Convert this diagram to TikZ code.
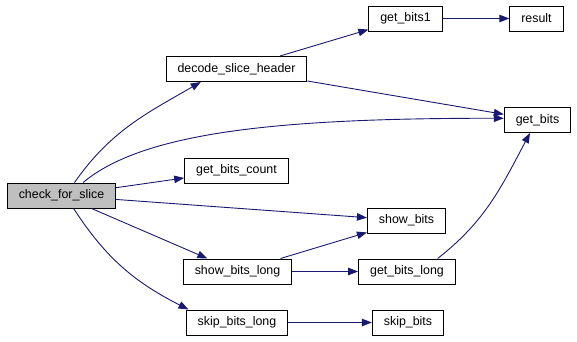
\documentclass[tikz,border=0pt]{standalone}
\usepackage{fontspec}
\setmainfont{Liberation Sans}
\usetikzlibrary{arrows.meta}

\definecolor{edgeblue}{HTML}{191970}
\definecolor{curgray}{HTML}{BFBFBF}

\begin{document}
\begin{tikzpicture}[x=1pt, y=1pt,
    fn/.style = {draw, line width=1pt, minimum height=25pt, inner xsep=11.5pt, inner ysep=0pt,
                 font=\fontsize{12.4}{14}\selectfont},
    cur/.style = {fn, fill=curgray},
    call/.style = {draw=edgeblue, line width=0.9pt, -{Triangle[length=10pt, width=7.5pt]}}]
    \useasboundingbox (0,0) rectangle (577,-341);

    % functions, one column per call depth
    \node[cur](cfs) at (61.5,-195.5) {check\_for\_slice};
    \node[fn](dsh) at (236.5,-69) {decode\_slice\_header};
    \node[fn](gbc) at (236.5,-170.5) {get\_bits\_count};
    \node[fn](sbl) at (237.5,-271.5) {show\_bits\_long};
    \node[fn](skbl) at (237,-322.5) {skip\_bits\_long};
    \node[fn](gb1) at (405.5,-18.5) {get\_bits1};
    \node[fn](sb) at (406.5,-220.5) {show\_bits};
    \node[fn](gbl) at (407,-271.5) {get\_bits\_long};
    \node[fn](skb) at (408,-322.5) {skip\_bits};
    \node[fn](res) at (536.5,-18.5) {result};
    \node[fn](gb) at (537.5,-120) {get\_bits};

    % calls
    \draw[call] (cfs.45) to[out=55, in=210] (dsh.200);
    \draw[call] (cfs.31) .. controls +(40:80) and +(180:220) .. (gb.177);
    \draw[call] (cfs) -- (gbc);
    \draw[call] (cfs) -- (sb);
    \draw[call] (cfs) -- (sbl);
    \draw[call] (cfs.-47) to[out=-57, in=153] (skbl.165);
    \draw[call] (dsh) -- (gb1);
    \draw[call] (dsh) -- (gb);
    \draw[call] (gb1) -- (res);
    \draw[call] (sbl) -- (sb);
    \draw[call] (sbl) -- (gbl);
    \draw[call] (gbl.23) to[out=38, in=-118] (gb.240);
    \draw[call] (skbl) -- (skb);
\end{tikzpicture}
\end{document}
